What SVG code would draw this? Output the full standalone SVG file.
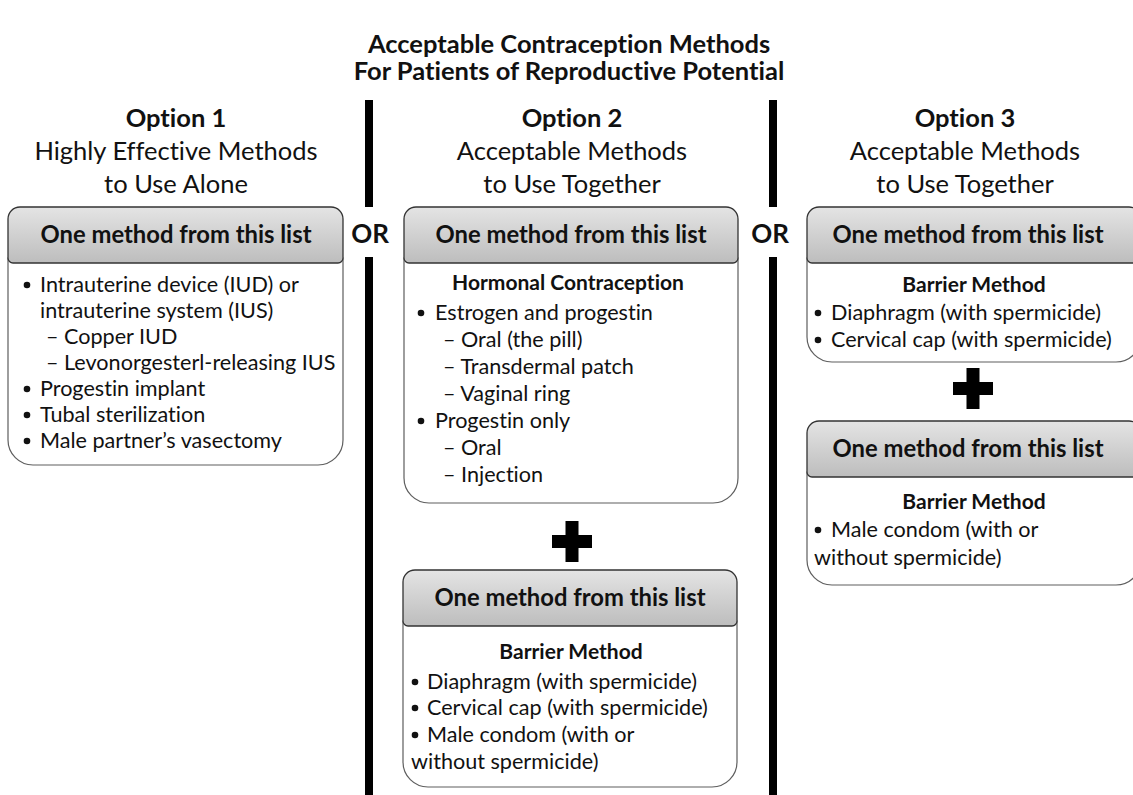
<svg xmlns="http://www.w3.org/2000/svg" width="1133" height="795" viewBox="0 0 1133 795">
<defs>
<linearGradient id="hdr" x1="0" y1="0" x2="0" y2="1">
<stop offset="0" stop-color="#e4e4e4"/>
<stop offset="1" stop-color="#bdbdbd"/>
</linearGradient>
<style>
text{font-family:Lato,"Open Sans","Liberation Sans",sans-serif;fill:#111;font-variant-ligatures:none;}
.title{font-size:25.5px;font-weight:bold;text-anchor:middle;}
.optb{font-size:25.5px;font-weight:bold;text-anchor:middle;}
.opt{font-size:25.5px;text-anchor:middle;}
.or{font-size:26px;font-weight:bold;text-anchor:middle;}
.hd{font-size:23.8px;font-weight:bold;text-anchor:middle;}
.sub{font-size:21px;font-weight:bold;text-anchor:middle;}
.it{font-size:21.6px;}
.body{fill:#fff;stroke:#5e5e5e;stroke-width:1.2;}
.head{fill:url(#hdr);stroke:#333;stroke-width:1.3;}
.bul{fill:#111;}
.sep{stroke:#000;stroke-width:8;}
</style>
</defs>
<rect width="1133" height="795" fill="#fff"/>

<g id="title">
<text class="title" x="569" y="53">Acceptable Contraception Methods</text>
<text class="title" x="569" y="80">For Patients of Reproductive Potential</text>
</g>

<g id="option1-heading">
<text class="optb" x="176" y="127">Option 1</text>
<text class="opt" x="176" y="160">Highly Effective Methods</text>
<text class="opt" x="176" y="193">to Use Alone</text>
</g>
<g id="option2-heading">
<text class="optb" x="572" y="127">Option 2</text>
<text class="opt" x="572" y="160">Acceptable Methods</text>
<text class="opt" x="572" y="193">to Use Together</text>
</g>
<g id="option3-heading">
<text class="optb" x="965" y="127">Option 3</text>
<text class="opt" x="965" y="160">Acceptable Methods</text>
<text class="opt" x="965" y="193">to Use Together</text>
</g>

<g id="connectors">
<line class="sep" x1="369" y1="100" x2="369" y2="207"/>
<line class="sep" x1="369" y1="257" x2="369" y2="795"/>
<line class="sep" x1="773" y1="100" x2="773" y2="207"/>
<line class="sep" x1="773" y1="257" x2="773" y2="795"/>
<text class="or" x="370" y="243">OR</text>
<text class="or" x="770" y="243">OR</text>
<path d="M565.5 521 h13 v14 h13.5 v13 h-13.5 v14 h-13 v-14 h-13.5 v-13 h13.5 z" fill="#000"/>
<path d="M966.5 368 h13 v14 h13.5 v13 h-13.5 v14 h-13 v-14 h-13.5 v-13 h13.5 z" fill="#000"/>
</g>

<g id="box1">
<path class="body" d="M8 258 H343 V440 A25 25 0 0 1 318 465 H33 A25 25 0 0 1 8 440 Z"/>
<path class="head" d="M20 207 H331 A12 12 0 0 1 343 219 V258 A5 5 0 0 1 338 263 H13 A5 5 0 0 1 8 258 V219 A12 12 0 0 1 20 207 Z"/>
<text class="hd" x="176" y="243">One method from this list</text>
<circle class="bul" cx="27" cy="285" r="3.3"/>
<text class="it" x="40" y="292">Intrauterine device (IUD) or</text>
<text class="it" x="40" y="318">intrauterine system (IUS)</text>
<text class="it" x="46" y="344">– Copper IUD</text>
<text class="it" x="46" y="370">– Levonorgesterl-releasing IUS</text>
<circle class="bul" cx="27" cy="389" r="3.3"/>
<text class="it" x="40" y="396">Progestin implant</text>
<circle class="bul" cx="27" cy="415" r="3.3"/>
<text class="it" x="40" y="422">Tubal sterilization</text>
<circle class="bul" cx="27" cy="441" r="3.3"/>
<text class="it" x="40" y="448">Male partner’s vasectomy</text>
</g>

<g id="box2">
<path class="body" d="M404 258 H738 V478 A25 25 0 0 1 713 503 H429 A25 25 0 0 1 404 478 Z"/>
<path class="head" d="M416 207 H726 A12 12 0 0 1 738 219 V258 A5 5 0 0 1 733 263 H409 A5 5 0 0 1 404 258 V219 A12 12 0 0 1 416 207 Z"/>
<text class="hd" x="571" y="243">One method from this list</text>
<text class="sub" x="568" y="290">Hormonal Contraception</text>
<circle class="bul" cx="421" cy="313" r="3.3"/>
<text class="it" x="435" y="320">Estrogen and progestin</text>
<text class="it" x="443" y="347">– Oral (the pill)</text>
<text class="it" x="443" y="374">– Transdermal patch</text>
<text class="it" x="443" y="401">– Vaginal ring</text>
<circle class="bul" cx="421" cy="421" r="3.3"/>
<text class="it" x="435" y="428">Progestin only</text>
<text class="it" x="443" y="455">– Oral</text>
<text class="it" x="443" y="482">– Injection</text>
</g>

<g id="box2b">
<path class="body" d="M403 621 H737 V762 A25 25 0 0 1 712 787 H428 A25 25 0 0 1 403 762 Z"/>
<path class="head" d="M415 570 H725 A12 12 0 0 1 737 582 V621 A5 5 0 0 1 732 626 H408 A5 5 0 0 1 403 621 V582 A12 12 0 0 1 415 570 Z"/>
<text class="hd" x="570" y="606">One method from this list</text>
<text class="sub" x="571" y="659">Barrier Method</text>
<circle class="bul" cx="415" cy="682" r="3.3"/>
<text class="it" x="427" y="689">Diaphragm (with spermicide)</text>
<circle class="bul" cx="415" cy="708" r="3.3"/>
<text class="it" x="427" y="715">Cervical cap (with spermicide)</text>
<circle class="bul" cx="415" cy="735" r="3.3"/>
<text class="it" x="427" y="742">Male condom (with or</text>
<text class="it" x="411" y="769">without spermicide)</text>
</g>

<g id="box3">
<path class="body" d="M807 258 H1141 V337 A25 25 0 0 1 1116 362 H832 A25 25 0 0 1 807 337 Z"/>
<path class="head" d="M819 207 H1129 A12 12 0 0 1 1141 219 V258 A5 5 0 0 1 1136 263 H812 A5 5 0 0 1 807 258 V219 A12 12 0 0 1 819 207 Z"/>
<text class="hd" x="968" y="243">One method from this list</text>
<text class="sub" x="974" y="292">Barrier Method</text>
<circle class="bul" cx="818" cy="313" r="3.3"/>
<text class="it" x="831" y="320">Diaphragm (with spermicide)</text>
<circle class="bul" cx="818" cy="340" r="3.3"/>
<text class="it" x="831" y="347">Cervical cap (with spermicide)</text>
</g>

<g id="box3b">
<path class="body" d="M807 472 H1141 V560 A25 25 0 0 1 1116 585 H832 A25 25 0 0 1 807 560 Z"/>
<path class="head" d="M819 421 H1129 A12 12 0 0 1 1141 433 V472 A5 5 0 0 1 1136 477 H812 A5 5 0 0 1 807 472 V433 A12 12 0 0 1 819 421 Z"/>
<text class="hd" x="968" y="457">One method from this list</text>
<text class="sub" x="974" y="509">Barrier Method</text>
<circle class="bul" cx="818" cy="530" r="3.3"/>
<text class="it" x="831" y="537">Male condom (with or</text>
<text class="it" x="814" y="565">without spermicide)</text>
</g>
</svg>
